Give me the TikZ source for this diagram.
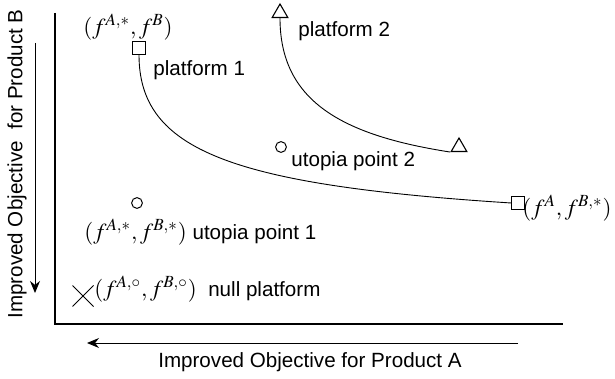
\documentclass[tikz,border=0pt]{standalone}
\usepackage{mathptmx}
\usepackage[no-math]{fontspec}
\setmainfont{Liberation Sans}
\usetikzlibrary{arrows.meta,shapes.geometric,shapes.misc}

\newcommand{\mathsz}{\fontsize{11.5}{13}\selectfont}

\begin{document}
\begin{tikzpicture}[
  x=0.5pt, y=-0.5pt,
  every node/.style={font=\fontsize{10.3}{12}\selectfont, inner sep=0pt},
  axis/.style={line width=0.6pt, black},
  flow/.style={-{Stealth[length=6pt, width=5pt]}, line width=0.5pt},
  front/.style={line width=0.45pt},
  sqmark/.style={rectangle, draw, line width=0.55pt, minimum size=6.2pt},
  trimark/.style={regular polygon, regular polygon sides=3, draw,
                  line width=0.55pt, minimum size=9pt},
  utopia/.style={circle, draw, line width=0.5pt, minimum size=5.4pt},
  nullmark/.style={cross out, draw, line width=0.5pt, minimum size=10pt},
  lbl/.style={anchor=west},
  mlbl/.style={font=\mathsz},
]
\useasboundingbox (0,0) rectangle (615,379);

% ----------------------------------------------------------------- axes --
\coordinate (top)    at (55,13);
\coordinate (origin) at (55,324);
\coordinate (right)  at (563,324);
\draw[axis] (top) -- (origin) -- (right);

\coordinate (bstart) at (35,43);
\coordinate (bend)   at (35,293);
\draw[flow] (bstart) -- (bend);
\coordinate (astart) at (518,343);
\coordinate (aend)   at (87,343);
\draw[flow] (astart) -- (aend);

\node[rotate=90] (ylabel) at (17,164) {Improved Objective\ \ for Product B};
\node (xlabel) at (310,362) {Improved Objective for Product A};

% ------------------------------------------------------------ platforms --
\node[sqmark]  (p1)  at (139,48)  {};
\node[sqmark]  (p1b) at (518,203) {};
\node[trimark] (p2)  at (280,13)  {};
\node[trimark] (p2b) at (459,147) {};

\draw[front] (p1.south) .. controls (139,150) and (230,185) .. (p1b.west);
\draw[front] (p2.south) .. controls (280,100) and (340,135) .. (p2b.corner 2);

\node[mlbl] (p1lab) at (128,27) {$(f^{A,*}, f^{B})$};
\node[lbl] (p1name) at (153,70) {platform 1};
\node[lbl] (p2name) at (298,31) {platform 2};
\node[mlbl, lbl] (p1blab) at (522,208) {$(f^{A}, f^{B,*})$};

% -------------------------------------------------------- utopia points --
\node[utopia] (u2) at (281,147) {};
\node[lbl] (u2name) at (291,161) {utopia point 2};
\node[utopia] (u1) at (137,203) {};
\node[lbl] (u1lab) at (84,232) {{\mathsz$(f^{A,*}, f^{B,*})$} utopia point 1};

% -------------------------------------------------------- null platform --
\node[nullmark] (np) at (83,296) {};
\node[lbl] (nplab) at (94,289) {{\mathsz$(f^{A,\circ}, f^{B,\circ})$}\ \ null platform};

\end{tikzpicture}
\end{document}
